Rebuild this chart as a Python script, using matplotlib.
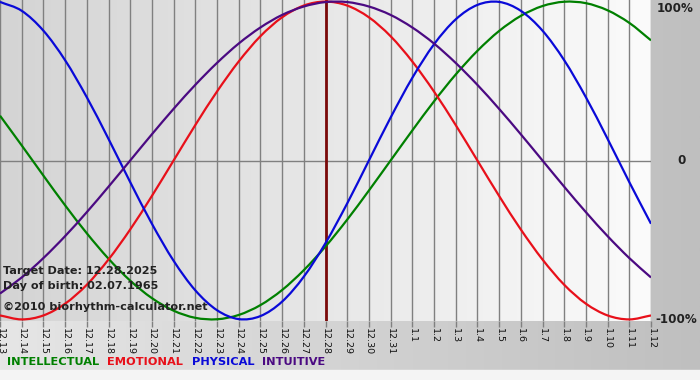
import numpy as np
import matplotlib
matplotlib.use("Agg")
import matplotlib.pyplot as plt
from matplotlib.colors import LinearSegmentedColormap
from matplotlib.path import Path
from matplotlib.patches import PathPatch

dates = ["12.13", "12.14", "12.15", "12.16", "12.17", "12.18", "12.19", "12.20",
         "12.21", "12.22", "12.23", "12.24", "12.25", "12.26", "12.27", "12.28",
         "12.29", "12.30", "12.31", "1.1", "1.2", "1.3", "1.4", "1.5", "1.6",
         "1.7", "1.8", "1.9", "1.10", "1.11", "1.12"]

physical = [0.998, 0.942, 0.817, 0.631, 0.398, 0.136, -0.136, -0.398, -0.631, -0.817,
            -0.942, -0.998, -0.979, -0.888, -0.731, -0.520, -0.270, 0.000, 0.270, 0.520,
            0.731, 0.888, 0.979, 0.998, 0.942, 0.817, 0.631, 0.398, 0.136, -0.136, -0.398]

emotional = [-0.975, -1.000, -0.975, -0.901, -0.782, -0.623, -0.434, -0.223, 0.000, 0.223,
             0.434, 0.623, 0.782, 0.901, 0.975, 1.000, 0.975, 0.901, 0.782, 0.623,
             0.434, 0.223, 0.000, -0.223, -0.434, -0.623, -0.782, -0.901, -0.975, -1.000, -0.975]

intellectual = [0.282, 0.095, -0.095, -0.282, -0.458, -0.618, -0.756, -0.866, -0.945, -0.990,
                -0.999, -0.972, -0.910, -0.815, -0.690, -0.541, -0.372, -0.189, 0.000, 0.189,
                0.372, 0.541, 0.690, 0.815, 0.910, 0.972, 0.999, 0.990, 0.945, 0.866, 0.756]

intuitive = [-0.837, -0.736, -0.614, -0.476, -0.325, -0.165, 0.000, 0.165, 0.325, 0.476,
             0.614, 0.736, 0.837, 0.916, 0.969, 0.997, 0.997, 0.969, 0.916, 0.837,
             0.736, 0.614, 0.476, 0.325, 0.165, 0.000, -0.165, -0.325, -0.476, -0.614, -0.736]

target_label = "12.28"
info_lines = ["Target Date: 12.28.2025", "Day of birth: 02.07.1965"]
copyright_text = "\u00a92010 biorhythm-calculator.net"
legend_names = ["INTELLECTUAL", "EMOTIONAL", "PHYSICAL", "INTUITIVE"]

C_INT = "#008000"
C_EMO = "#e8101a"
C_PHY = "#0a0ad8"
C_ITU = "#4b0a82"


def smooth_path(xs, ys):
    """Smooth (Catmull-Rom style) Bezier path through the given data points."""
    p = np.column_stack([xs, ys]).astype(float)
    ext = np.vstack([2 * p[0] - p[1], p, 2 * p[-1] - p[-2]])
    verts = [p[0]]
    codes = [Path.MOVETO]
    for i in range(len(p) - 1):
        p0, p1, p2, p3 = ext[i], ext[i + 1], ext[i + 2], ext[i + 3]
        c1 = p1 + (p2 - p0) / 6.0
        c2 = p2 - (p3 - p1) / 6.0
        verts += [c1, c2, p2]
        codes += [Path.CURVE4] * 3
    return Path(np.array(verts), codes)


W, H = 700, 380
fig = plt.figure(figsize=(W / 100, H / 100), dpi=100)

# figure background gradient
bg = fig.add_axes([0, 0, 1, 1], zorder=-10)
bg_cmap = LinearSegmentedColormap.from_list("bg", ["#e6e6e6", "#bfbfbf"])
bg.imshow(np.linspace(0, 1, 256).reshape(1, -1), aspect="auto", cmap=bg_cmap,
          extent=[0, 1, 10 / H, 1])
bg.axhspan(0, 10 / H, color="#f4f4f4")
bg.set_xlim(0, 1)
bg.set_ylim(0, 1)
bg.axis("off")

ax_l, ax_b = 0 / W, 1 - 321 / H
ax_w, ax_h = 651 / W, 321 / H
ax = fig.add_axes([ax_l, ax_b, ax_w, ax_h])
x = np.arange(len(dates))
ax.set_xlim(0, len(dates) - 1)
ax.set_ylim(-1.01, 1.01)

pl_cmap = LinearSegmentedColormap.from_list("pl", ["#d4d4d4", "#fbfbfb"])
ax.imshow(np.linspace(0, 1, 256).reshape(1, -1), aspect="auto", cmap=pl_cmap,
          extent=[0, len(dates) - 1, -1.01, 1.01], zorder=0)

for xi in x:
    ax.axvline(xi, color="#808080", lw=1.0, zorder=1)
ax.axhline(0, color="#808080", lw=1.0, zorder=1)

ti = dates.index(target_label)
ax.axvline(ti, color="#7a0a0a", lw=2.0, zorder=3)

for series, col in [(intellectual, C_INT), (emotional, C_EMO),
                    (physical, C_PHY), (intuitive, C_ITU)]:
    patch = PathPatch(smooth_path(x, series), facecolor="none", edgecolor=col,
                      lw=1.6, zorder=4, transform=ax.transData)
    ax.add_patch(patch)

for s in ax.spines.values():
    s.set_visible(False)
ax.set_yticks([])
ax.set_xticks(x)
ax.set_xticklabels(dates, rotation=-90, fontsize=6.8, color="#111111")
ax.tick_params(axis="x", length=4, width=1, color="#808080", pad=1)

fp = dict(fontsize=8.6, fontweight="bold", color="#222222", family="DejaVu Sans")
ax.text(657 / 651 * (len(dates) - 1), 1.0, "100%", va="top", ha="left",
        clip_on=False, **fp)
ax.text(677 / 651 * (len(dates) - 1), 0, "0", va="center", ha="left",
        clip_on=False, **fp)
ax.text(655 / 651 * (len(dates) - 1), -1.0, "-100%", va="center", ha="left",
        clip_on=False, **fp)

tp = dict(fontsize=8.1, fontweight="bold", color="#222222")
fig.text(3 / W, 1 - 271 / H, info_lines[0], va="center", ha="left", **tp)
fig.text(3 / W, 1 - 286 / H, info_lines[1], va="center", ha="left", **tp)
fig.text(3 / W, 1 - 307 / H, copyright_text, va="center", ha="left", **tp)

leg_x = [7, 107, 192, 262]
leg_c = [C_INT, C_EMO, C_PHY, C_ITU]
for name, lx, c in zip(legend_names, leg_x, leg_c):
    fig.text(lx / W, 1 - 362 / H, name, va="center", ha="left", fontsize=8.2,
             fontweight="bold", color=c)

fig.savefig("out.png", dpi=100)
